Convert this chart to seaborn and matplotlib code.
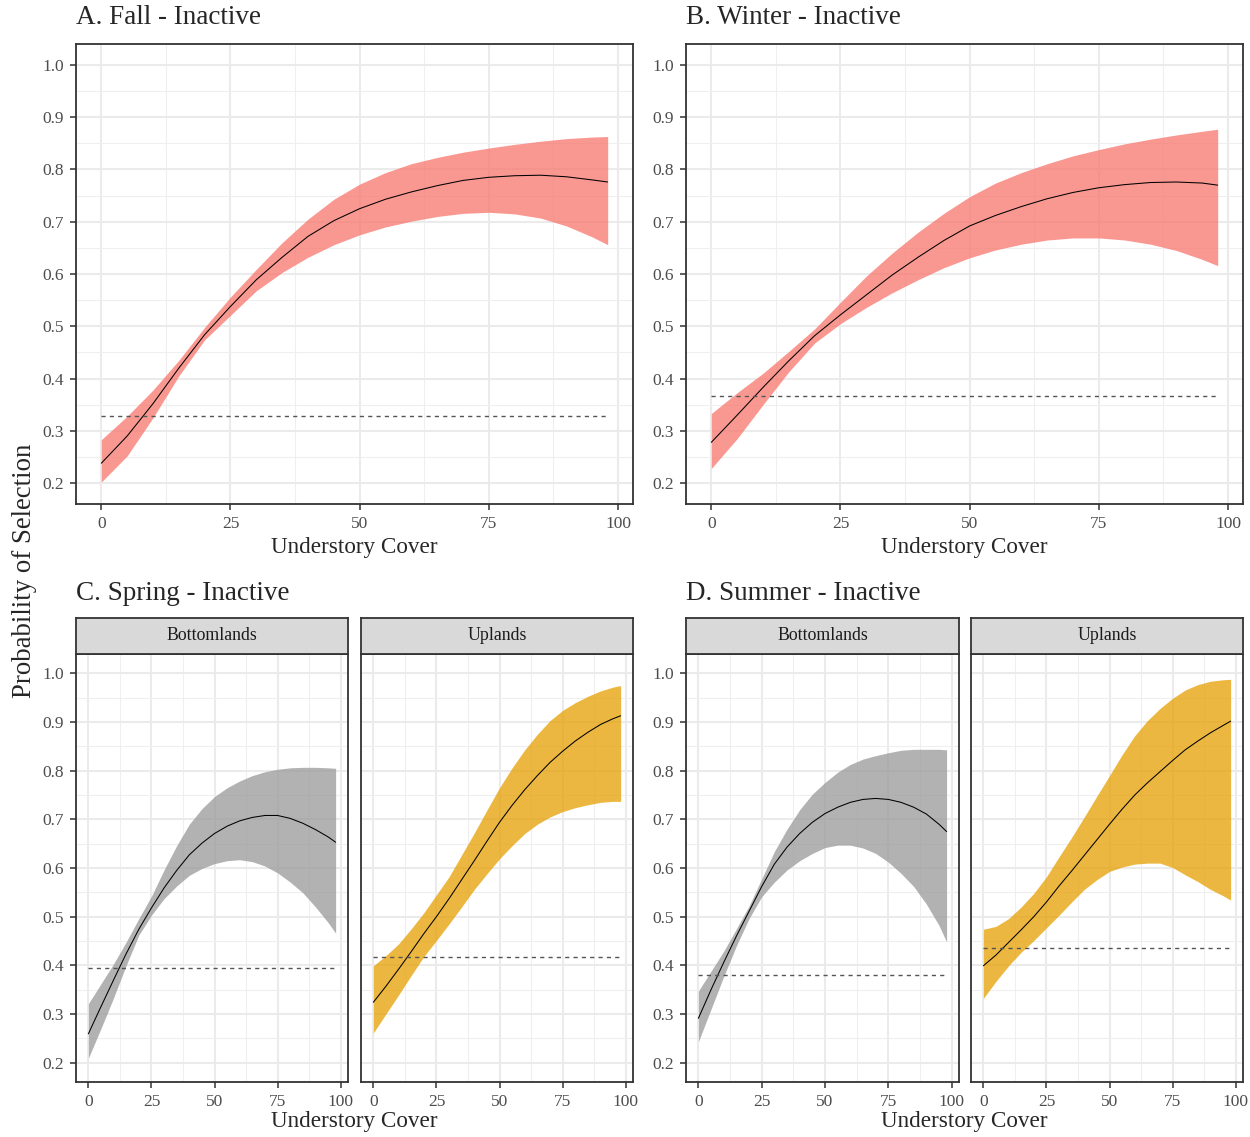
import numpy as np
import pandas as pd
import matplotlib
matplotlib.use("Agg")
import matplotlib.pyplot as plt
from matplotlib.ticker import FixedLocator, FormatStrFormatter
import seaborn as sns

# Understory cover values at which the predictions were evaluated
cover = [0, 5, 10, 15, 20, 25, 30, 35, 40, 45, 50, 55, 60, 65, 70, 75, 80, 85, 90, 95, 98]

# A. Fall - Inactive
fall_fit = [0.238, 0.290, 0.352, 0.420, 0.484, 0.538, 0.589, 0.632, 0.672, 0.702, 0.725,
            0.743, 0.757, 0.769, 0.779, 0.785, 0.788, 0.789, 0.786, 0.780, 0.776]
fall_lo = [0.202, 0.252, 0.325, 0.405, 0.474, 0.521, 0.568, 0.603, 0.632, 0.656, 0.675,
           0.690, 0.701, 0.710, 0.716, 0.718, 0.715, 0.707, 0.692, 0.671, 0.656]
fall_hi = [0.283, 0.328, 0.378, 0.435, 0.498, 0.556, 0.609, 0.660, 0.705, 0.743, 0.772,
           0.794, 0.811, 0.823, 0.833, 0.841, 0.848, 0.854, 0.859, 0.862, 0.863]
fall_avail = 0.328

# B. Winter - Inactive
winter_fit = [0.278, 0.330, 0.383, 0.434, 0.482, 0.522, 0.560, 0.598, 0.632, 0.664, 0.692,
              0.712, 0.729, 0.744, 0.756, 0.765, 0.771, 0.775, 0.776, 0.774, 0.770]
winter_lo = [0.228, 0.285, 0.350, 0.413, 0.468, 0.505, 0.536, 0.564, 0.589, 0.612, 0.631,
             0.646, 0.657, 0.665, 0.669, 0.669, 0.665, 0.657, 0.645, 0.628, 0.616]
winter_hi = [0.333, 0.373, 0.410, 0.452, 0.495, 0.546, 0.596, 0.640, 0.680, 0.716, 0.748,
             0.774, 0.794, 0.811, 0.826, 0.838, 0.849, 0.858, 0.866, 0.873, 0.877]
winter_avail = 0.366

# C. Spring - Inactive, Bottomlands
spring_bot_fit = [0.259, 0.315, 0.370, 0.424, 0.474, 0.518, 0.559, 0.595, 0.627, 0.651, 0.671,
                  0.686, 0.697, 0.704, 0.708, 0.708, 0.702, 0.692, 0.679, 0.664, 0.653]
spring_bot_lo = [0.209, 0.270, 0.333, 0.400, 0.462, 0.503, 0.537, 0.563, 0.585, 0.599, 0.609,
                 0.615, 0.617, 0.613, 0.604, 0.590, 0.571, 0.549, 0.520, 0.488, 0.466]
spring_bot_hi = [0.321, 0.362, 0.403, 0.448, 0.496, 0.542, 0.596, 0.646, 0.690, 0.722, 0.747,
                 0.765, 0.779, 0.790, 0.798, 0.803, 0.806, 0.807, 0.807, 0.806, 0.805]
spring_bot_avail = 0.394

# C. Spring - Inactive, Uplands
spring_up_fit = [0.324, 0.357, 0.392, 0.428, 0.465, 0.500, 0.537, 0.576, 0.615, 0.655, 0.694,
                 0.729, 0.761, 0.790, 0.817, 0.840, 0.861, 0.879, 0.895, 0.907, 0.913]
spring_up_lo = [0.261, 0.300, 0.339, 0.379, 0.418, 0.451, 0.485, 0.520, 0.556, 0.588, 0.619,
                0.646, 0.671, 0.690, 0.705, 0.716, 0.724, 0.730, 0.735, 0.737, 0.737]
spring_up_hi = [0.399, 0.420, 0.444, 0.475, 0.508, 0.545, 0.582, 0.627, 0.672, 0.719, 0.765,
                0.806, 0.843, 0.875, 0.903, 0.924, 0.940, 0.953, 0.964, 0.972, 0.975]
spring_up_avail = 0.418

# D. Summer - Inactive, Bottomlands
summer_bot_fit = [0.291, 0.350, 0.406, 0.460, 0.511, 0.562, 0.608, 0.643, 0.671, 0.694, 0.712,
                  0.725, 0.735, 0.741, 0.743, 0.741, 0.735, 0.725, 0.711, 0.690, 0.675]
summer_bot_lo = [0.243, 0.310, 0.377, 0.440, 0.496, 0.541, 0.571, 0.596, 0.615, 0.630, 0.642,
                 0.647, 0.647, 0.641, 0.630, 0.612, 0.589, 0.562, 0.526, 0.482, 0.448]
summer_bot_hi = [0.347, 0.388, 0.429, 0.475, 0.522, 0.578, 0.634, 0.680, 0.720, 0.752, 0.776,
                 0.797, 0.813, 0.824, 0.831, 0.837, 0.842, 0.844, 0.844, 0.844, 0.843]
summer_bot_avail = 0.380

# D. Summer - Inactive, Uplands
summer_up_fit = [0.399, 0.421, 0.447, 0.473, 0.500, 0.530, 0.563, 0.594, 0.626, 0.658, 0.690,
                 0.721, 0.750, 0.775, 0.798, 0.821, 0.843, 0.861, 0.878, 0.893, 0.902]
summer_up_lo = [0.332, 0.367, 0.399, 0.427, 0.451, 0.477, 0.503, 0.530, 0.556, 0.576, 0.593,
                0.602, 0.608, 0.610, 0.610, 0.601, 0.586, 0.572, 0.556, 0.543, 0.534]
summer_up_hi = [0.474, 0.480, 0.496, 0.520, 0.548, 0.582, 0.623, 0.663, 0.705, 0.748, 0.790,
                0.833, 0.872, 0.903, 0.928, 0.949, 0.966, 0.977, 0.984, 0.987, 0.988]
summer_up_avail = 0.436

x_ticks = [0, 25, 50, 75, 100]
y_ticks = [0.2, 0.3, 0.4, 0.5, 0.6, 0.7, 0.8, 0.9, 1.0]

RED = "#F8766D"
GREY = "#999999"
GOLD = "#E69F00"

sns.set_theme(style="white")
plt.rcParams["font.family"] = ["Liberation Serif", "DejaVu Serif"]

W, H = 1250, 1137
fig = plt.figure(figsize=(W / 100, H / 100), dpi=100)
fig.patch.set_facecolor("white")

TFS = 19.5   # panel titles
LFS = 16.7   # x-axis titles
YFS = 19.3   # shared y-axis title
TICKFS = 12.5
STRIPFS = 12.8


def box(l, t, r, b):
    return [l / W, 1 - b / H, (r - l) / W, (b - t) / H]


def style_panel(ax, show_y=True):
    ax.set_xlim(-4.9, 102.9)
    ax.set_ylim(0.16, 1.04)
    ax.set_facecolor("white")
    ax.xaxis.set_major_locator(FixedLocator(x_ticks))
    ax.yaxis.set_major_locator(FixedLocator(y_ticks))
    ax.xaxis.set_minor_locator(FixedLocator([12.5, 37.5, 62.5, 87.5]))
    ax.yaxis.set_minor_locator(FixedLocator([0.25, 0.35, 0.45, 0.55, 0.65, 0.75, 0.85, 0.95]))
    ax.yaxis.set_major_formatter(FormatStrFormatter("%.1f"))
    ax.grid(which="major", color="#EBEBEB", linewidth=1.5, zorder=0)
    ax.grid(which="minor", color="#EFEFEF", linewidth=0.8, zorder=0)
    ax.set_axisbelow(True)
    for s in ax.spines.values():
        s.set_color("#333333")
        s.set_linewidth(1.3)
    ax.tick_params(which="major", direction="out", length=4, width=1.1, color="#333333",
                   labelsize=TICKFS, labelcolor="#4D4D4D", pad=4.5,
                   bottom=True, left=show_y, labelleft=show_y)
    ax.tick_params(which="minor", length=0)
    ax.set_xlabel("")
    ax.set_ylabel("")


def draw(ax, fit, lo, hi, avail, color):
    ax.fill_between(cover, lo, hi, color=color, alpha=0.75, linewidth=0, zorder=2)
    df = pd.DataFrame({"cover": cover, "prob": fit})
    sns.lineplot(data=df, x="cover", y="prob", ax=ax, color="black", linewidth=0.75, zorder=3)
    ref = pd.DataFrame({"cover": [cover[0], cover[-1]], "prob": [avail, avail]})
    sns.lineplot(data=ref, x="cover", y="prob", ax=ax, color="#555555", linewidth=1.0,
                 linestyle=(0, (3, 3)), zorder=4)


def strip(l, r, t, b, label):
    sax = fig.add_axes(box(l, t, r, b))
    sax.set_facecolor("#D9D9D9")
    sax.set_xticks([])
    sax.set_yticks([])
    for s in sax.spines.values():
        s.set_color("#333333")
        s.set_linewidth(1.3)
    sax.text(0.5, 0.5, label, ha="center", va="center", fontsize=STRIPFS, color="#1A1A1A",
             transform=sax.transAxes)


# A. Fall
axA = fig.add_axes(box(76, 44, 633, 504))
draw(axA, fall_fit, fall_lo, fall_hi, fall_avail, RED)
style_panel(axA)
fig.text(76 / W, 1 - 18 / H, "A. Fall - Inactive", fontsize=TFS, va="center", ha="left")
fig.text((76 + 633) / 2 / W, 1 - 548 / H, "Understory Cover", fontsize=LFS, ha="center", va="center")

# B. Winter
axB = fig.add_axes(box(686, 44, 1243, 504))
draw(axB, winter_fit, winter_lo, winter_hi, winter_avail, RED)
style_panel(axB)
fig.text(686 / W, 1 - 18 / H, "B. Winter - Inactive", fontsize=TFS, va="center", ha="left")
fig.text((686 + 1243) / 2 / W, 1 - 548 / H, "Understory Cover", fontsize=LFS, ha="center", va="center")

# C. Spring
axC1 = fig.add_axes(box(76, 654, 348, 1082))
draw(axC1, spring_bot_fit, spring_bot_lo, spring_bot_hi, spring_bot_avail, GREY)
style_panel(axC1)
axC2 = fig.add_axes(box(361, 654, 633, 1082))
draw(axC2, spring_up_fit, spring_up_lo, spring_up_hi, spring_up_avail, GOLD)
style_panel(axC2, show_y=False)
strip(76, 348, 618, 654, "Bottomlands")
strip(361, 633, 618, 654, "Uplands")
fig.text(76 / W, 1 - 593 / H, "C. Spring - Inactive", fontsize=TFS, va="center", ha="left")
fig.text((76 + 633) / 2 / W, 1 - 1122 / H, "Understory Cover", fontsize=LFS, ha="center", va="center")

# D. Summer
axD1 = fig.add_axes(box(686, 654, 959, 1082))
draw(axD1, summer_bot_fit, summer_bot_lo, summer_bot_hi, summer_bot_avail, GREY)
style_panel(axD1)
axD2 = fig.add_axes(box(971, 654, 1243, 1082))
draw(axD2, summer_up_fit, summer_up_lo, summer_up_hi, summer_up_avail, GOLD)
style_panel(axD2, show_y=False)
strip(686, 959, 618, 654, "Bottomlands")
strip(971, 1243, 618, 654, "Uplands")
fig.text(686 / W, 1 - 593 / H, "D. Summer - Inactive", fontsize=TFS, va="center", ha="left")
fig.text((686 + 1243) / 2 / W, 1 - 1122 / H, "Understory Cover", fontsize=LFS, ha="center", va="center")

# Shared y-axis title
fig.text(25 / W, 1 - 571 / H, "Probability of Selection", fontsize=YFS, rotation=90,
         ha="center", va="center")

fig.savefig("out.png", dpi=100, facecolor="white")
